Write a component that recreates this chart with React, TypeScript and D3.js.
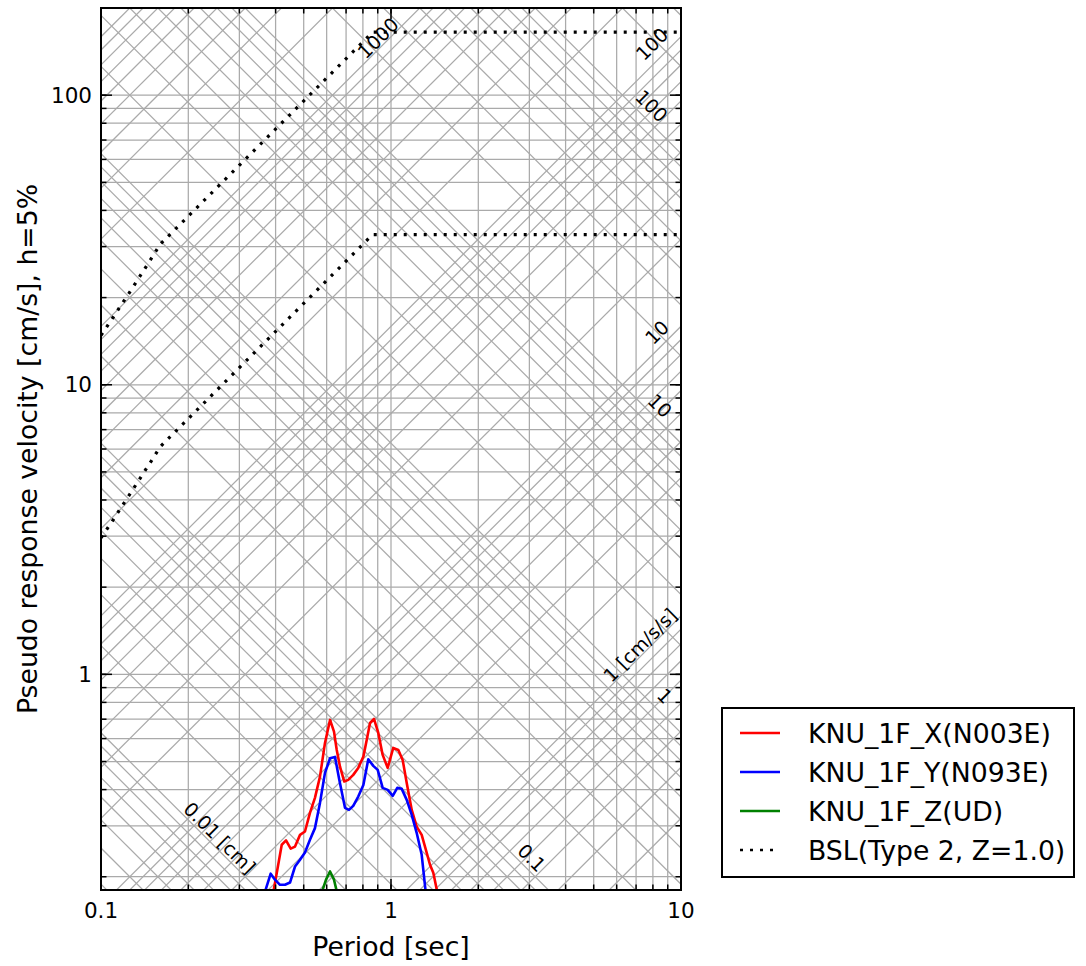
import React from "react";
import * as d3 from "d3";

// ---- data ----
const xTickValues = [0.1, 1, 10];
const xTickLabels = ["0.1", "1", "10"];
const yTickValues = [1, 10, 100];
const yTickLabels = ["1", "10", "100"];
const minorMultipliers = [1, 2, 3, 4, 5, 6, 7, 8, 9];
const accDecades = [0.1, 1, 10, 100, 1000, 10000];
const dispDecades = [0.001, 0.01, 0.1, 1, 10, 100, 1000];

const xPeriods = [0.389, 0.42, 0.4345, 0.451, 0.4667, 0.4856, 0.505, 0.5255, 0.5467, 0.569, 0.592, 0.6163, 0.636, 0.65, 0.667, 0.69, 0.712, 0.741, 0.771, 0.803, 0.8246, 0.8467, 0.8737, 0.904, 0.936, 0.974, 1.018, 1.06, 1.097, 1.133, 1.179, 1.226, 1.276, 1.328, 1.363, 1.399, 1.446];
const xSv = [0.167, 0.258, 0.267, 0.25, 0.2543, 0.279, 0.2866, 0.3324, 0.3745, 0.4435, 0.5796, 0.6959, 0.634, 0.548, 0.48, 0.4264, 0.432, 0.4496, 0.4753, 0.5198, 0.5935, 0.6793, 0.7013, 0.6276, 0.527, 0.4753, 0.557, 0.548, 0.5064, 0.4218, 0.3404, 0.298, 0.279, 0.2419, 0.22, 0.2064, 0.176];

const yPeriods = [0.365, 0.3847, 0.398, 0.4142, 0.431, 0.4485, 0.4667, 0.4856, 0.505, 0.5255, 0.5467, 0.569, 0.592, 0.6163, 0.641, 0.6635, 0.694, 0.7164, 0.741, 0.771, 0.803, 0.835, 0.8689, 0.8998, 0.936, 0.974, 1.014, 1.051, 1.089, 1.133, 1.179, 1.226, 1.276, 1.32];
const ySv = [0.1735, 0.2049, 0.1954, 0.1876, 0.1876, 0.191, 0.217, 0.229, 0.2425, 0.2683, 0.2944, 0.3598, 0.4567, 0.5132, 0.5186, 0.432, 0.346, 0.3404, 0.3514, 0.3785, 0.415, 0.5093, 0.4829, 0.4677, 0.4055, 0.399, 0.3805, 0.4055, 0.4023, 0.3686, 0.3272, 0.2837, 0.2382, 0.1735];

const zPeriods = [0.5736, 0.597, 0.6163, 0.636, 0.654];
const zSv = [0.1735, 0.1954, 0.2086, 0.1954, 0.1735];

const bslPeriods = [0.1, 0.11, 0.12, 0.13, 0.14, 0.15, 0.16, 0.864, 10];
const bslLevel2 = [14.8, 17.07, 19.48, 22.03, 24.73, 27.57, 30.56, 165.0, 165.0];
const bslLevel1 = [2.96, 3.41, 3.9, 4.41, 4.95, 5.51, 6.11, 33.0, 33.0];

const legendLabels = ["KNU_1F_X(N003E)", "KNU_1F_Y(N093E)", "KNU_1F_Z(UD)", "BSL(Type 2, Z=1.0)"];
const seriesColors = ["#ff0000", "#0000ff", "#008000", "#000000"];

// diagonal labels: text, period, Sv (centre)
const accLabelTexts = ["1 [cm/s/s]", "10", "100", "1000"];
const accLabelT = [7.22, 8.25, 7.93, 0.902];
const accLabelSv = [1.262, 15.19, 150.3, 157.6];
const dispLabelTexts = ["0.01 [cm]", "0.1", "1", "10", "100"];
const dispLabelT = [0.257, 3.06, 8.81, 8.47, 7.93];
const dispLabelSv = [0.2726, 0.2326, 0.842, 8.48, 91.9];

const FONT = "DejaVu Sans";

export default function App() {
  const L = 101, R = 681, TOP = 8, B = 890;
  const x = d3.scaleLog().domain([0.1, 10]).range([L, R]);
  const y = d3.scaleLog().domain([0.18, 200]).range([B, TOP]);
  const TWO_PI = 2 * Math.PI;
  const [t0, t1] = x.domain();

  const xMinor: number[] = [];
  [0.1, 1].forEach((d) => minorMultipliers.forEach((m) => { const v = d * m; if (v >= 0.1 && v <= 10) xMinor.push(v); }));
  xMinor.push(10);
  const yMinor: number[] = [];
  [0.1, 1, 10, 100].forEach((d) => minorMultipliers.forEach((m) => { const v = d * m; if (v >= 0.18 && v <= 200) yMinor.push(v); }));

  const accVals: number[] = [];
  accDecades.forEach((d) => minorMultipliers.forEach((m) => accVals.push(d * m)));
  const dispVals: number[] = [];
  dispDecades.forEach((d) => minorMultipliers.forEach((m) => dispVals.push(d * m)));

  const line = d3.line<[number, number]>().x((d) => x(d[0])).y((d) => y(d[1]));
  const zip = (a: number[], b: number[]) => a.map((v, i) => [v, b[i]] as [number, number]);

  const gridColor = "#aaaaaa";
  const gridW = 1.25;
  const labelFs = 26.7;
  const diagFs = 19;

  return (
    <svg width={1086} height={966} style={{ position: "absolute", left: 0, top: 0, background: "#fff" }} fontFamily={FONT}>
      <defs>
        <clipPath id="plotclip">
          <rect x={L} y={TOP} width={R - L} height={B - TOP} />
        </clipPath>
      </defs>
      <rect x={0} y={0} width={1086} height={966} fill="#fff" />
      <g clipPath="url(#plotclip)">
        {xMinor.map((v, i) => (
          <line key={"gx" + i} x1={x(v)} x2={x(v)} y1={TOP} y2={B} stroke={gridColor} strokeWidth={gridW} />
        ))}
        {yMinor.map((v, i) => (
          <line key={"gy" + i} x1={L} x2={R} y1={y(v)} y2={y(v)} stroke={gridColor} strokeWidth={gridW} />
        ))}
        {accVals.map((a, i) => (
          <line key={"ga" + i} x1={x(t0)} y1={y((a * t0) / TWO_PI)} x2={x(t1)} y2={y((a * t1) / TWO_PI)} stroke={gridColor} strokeWidth={gridW} />
        ))}
        {dispVals.map((dv, i) => (
          <line key={"gd" + i} x1={x(t0)} y1={y((TWO_PI * dv) / t0)} x2={x(t1)} y2={y((TWO_PI * dv) / t1)} stroke={gridColor} strokeWidth={gridW} />
        ))}
        <path d={line(zip(bslPeriods, bslLevel2)) || ""} fill="none" stroke="#000" strokeWidth={3.2} strokeDasharray="3 7" />
        <path d={line(zip(bslPeriods, bslLevel1)) || ""} fill="none" stroke="#000" strokeWidth={3.2} strokeDasharray="3 7" />
        <path d={line(zip(xPeriods, xSv)) || ""} fill="none" stroke={seriesColors[0]} strokeWidth={2.6} strokeLinejoin="round" />
        <path d={line(zip(yPeriods, ySv)) || ""} fill="none" stroke={seriesColors[1]} strokeWidth={2.6} strokeLinejoin="round" />
        <path d={line(zip(zPeriods, zSv)) || ""} fill="none" stroke={seriesColors[2]} strokeWidth={2.6} strokeLinejoin="round" />
      </g>
      {/* diagonal labels */}
      {accLabelTexts.map((t, i) => (
        <text key={"al" + i} x={x(accLabelT[i])} y={y(accLabelSv[i])} fontSize={diagFs} textAnchor="middle" dominantBaseline="central"
          transform={`rotate(-45 ${x(accLabelT[i])} ${y(accLabelSv[i])})`} fill="#000">{t}</text>
      ))}
      {dispLabelTexts.map((t, i) => (
        <text key={"dl" + i} x={x(dispLabelT[i])} y={y(dispLabelSv[i])} fontSize={diagFs} textAnchor="middle" dominantBaseline="central"
          transform={`rotate(45 ${x(dispLabelT[i])} ${y(dispLabelSv[i])})`} fill="#000">{t}</text>
      ))}
      {/* ticks */}
      {xMinor.map((v, i) => (
        <g key={"xt" + i}>
          <line x1={x(v)} x2={x(v)} y1={B} y2={B - 5.5} stroke="#000" strokeWidth={1.5} />
          <line x1={x(v)} x2={x(v)} y1={TOP} y2={TOP + 5.5} stroke="#000" strokeWidth={1.5} />
        </g>
      ))}
      {xTickValues.map((v, i) => (
        <g key={"xM" + i}>
          <line x1={x(v)} x2={x(v)} y1={B} y2={B - 11} stroke="#000" strokeWidth={1.5} />
          <line x1={x(v)} x2={x(v)} y1={TOP} y2={TOP + 11} stroke="#000" strokeWidth={1.5} />
          <text x={x(v)} y={B + 28} fontSize={21.5} textAnchor="middle">{xTickLabels[i]}</text>
        </g>
      ))}
      {yMinor.map((v, i) => (
        <g key={"yt" + i}>
          <line x1={L} x2={L + 5.5} y1={y(v)} y2={y(v)} stroke="#000" strokeWidth={1.5} />
          <line x1={R} x2={R - 5.5} y1={y(v)} y2={y(v)} stroke="#000" strokeWidth={1.5} />
        </g>
      ))}
      {yTickValues.map((v, i) => (
        <g key={"yM" + i}>
          <line x1={L} x2={L + 11} y1={y(v)} y2={y(v)} stroke="#000" strokeWidth={1.5} />
          <line x1={R} x2={R - 11} y1={y(v)} y2={y(v)} stroke="#000" strokeWidth={1.5} />
          <text x={L - 9} y={y(v)} fontSize={21.5} textAnchor="end" dominantBaseline="central">{yTickLabels[i]}</text>
        </g>
      ))}
      <rect x={L} y={TOP} width={R - L} height={B - TOP} fill="none" stroke="#000" strokeWidth={2} />
      {/* axis labels */}
      <text x={(L + R) / 2} y={956} fontSize={labelFs} textAnchor="middle">Period [sec]</text>
      <text x={0} y={0} fontSize={labelFs} textAnchor="middle" transform={`translate(37 ${(TOP + B) / 2}) rotate(-90)`}>Pseudo response velocity [cm/s], h=5%</text>
      {/* legend */}
      <rect x={722} y={708} width={352} height={169} fill="#fff" stroke="#000" strokeWidth={2} />
      {legendLabels.map((t, i) => {
        const ly = 733 + i * 39;
        return (
          <g key={"lg" + i}>
            <line x1={740} x2={780} y1={ly} y2={ly} stroke={seriesColors[i]} strokeWidth={2.6} strokeDasharray={i === 3 ? "3 7" : undefined} />
            <text x={808} y={ly} fontSize={labelFs} dominantBaseline="central">{t}</text>
          </g>
        );
      })}
    </svg>
  );
}
